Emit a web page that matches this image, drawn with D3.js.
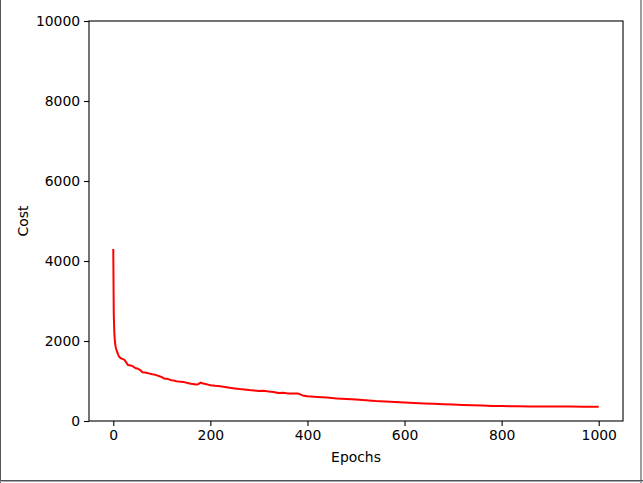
<!DOCTYPE html>
<html>
<head>
<meta charset="utf-8">
<script src="https://cdn.jsdelivr.net/npm/d3@7"></script>
<style>
	body { margin: 0; background: #fff; }
	svg { display: block; font-family: "DejaVu Sans", sans-serif; }
</style>
</head>
<body>
<div id="chart"></div>
<script>
// values
var epochs = [0, 1, 2, 3, 4, 5, 6, 8, 10, 12, 14, 17, 20, 23, 26, 30, 33, 36, 40, 43, 46,
	50, 55, 60, 65, 70, 75, 80, 85, 90, 95, 100, 105, 110, 115, 120, 125, 130, 135, 140,
	145, 150, 155, 160, 165, 170, 175, 180, 183, 185, 190, 195, 200, 210, 220, 230, 240,
	250, 260, 270, 280, 290, 300, 310, 320, 330, 340, 350, 360, 370, 380, 390, 400, 420,
	440, 460, 480, 500, 520, 540, 560, 580, 600, 620, 640, 660, 680, 700, 720, 740, 760,
	780, 800, 830, 860, 900, 940, 970, 1000];
var cost = [4300, 2700, 2250, 2050, 1930, 1850, 1800, 1730, 1660, 1610, 1585, 1560, 1545,
	1530, 1480, 1400, 1395, 1390, 1370, 1345, 1320, 1310, 1280, 1220, 1210, 1200, 1185,
	1170, 1160, 1140, 1120, 1095, 1060, 1055, 1040, 1020, 1010, 995, 985, 980, 975, 960,
	945, 930, 925, 915, 920, 960, 945, 935, 925, 910, 895, 880, 870, 850, 830, 815, 800,
	790, 775, 765, 750, 755, 735, 725, 700, 705, 690, 685, 690, 640, 620, 600, 585, 565,
	550, 535, 520, 500, 490, 475, 462, 450, 440, 430, 420, 410, 400, 392, 385, 378, 372,
	368, 365, 362, 360, 359, 358];
var xTicks = [0, 200, 400, 600, 800, 1000];
var yTicks = [0, 2000, 4000, 6000, 8000, 10000];

function drawChart(code) {
	var W = 643, H = 483;
	var margin = { top: 21, right: 20, bottom: 62, left: 89 };
	var width = W - margin.left - margin.right;
	var height = H - margin.top - margin.bottom;

	var svg = d3.select(code).append("svg")
		.attr("width", W)
		.attr("height", H);

	// window frame seen in the screenshot
	svg.append("line").attr("x1", 0.5).attr("x2", 0.5).attr("y1", 0).attr("y2", H)
		.style("stroke", "#50555c").style("stroke-width", 1);
	svg.append("line").attr("x1", W - 2).attr("x2", W - 2).attr("y1", 0).attr("y2", H)
		.style("stroke", "#9a9da2").style("stroke-width", 2);
	svg.append("line").attr("x1", 0).attr("x2", W).attr("y1", H - 2.5).attr("y2", H - 2.5)
		.style("stroke", "#50555c").style("stroke-width", 1);
	svg.append("line").attr("x1", 0).attr("x2", W).attr("y1", H - 1.5).attr("y2", H - 1.5)
		.style("stroke", "#a4a7ab").style("stroke-width", 1);

	var xScale = d3.scaleLinear().domain([-50, 1050]).range([0, width]);
	var yScale = d3.scaleLinear().domain([0, 10000]).range([height, 0]);

	var g = svg.append("g")
		.attr("transform", "translate(" + margin.left + "," + margin.top + ")");

	var line = d3.line()
		.x(function (d, i) { return xScale(epochs[i]); })
		.y(function (d) { return yScale(d); });

	g.append("path")
		.datum(cost)
		.attr("d", line)
		.style("fill", "none")
		.style("stroke", "#ff0000")
		.style("stroke-width", 2)
		.style("stroke-linejoin", "round");

	var xAxis = d3.axisBottom(xScale).tickValues(xTicks).tickFormat(d3.format("d"))
		.tickSize(4.9).tickPadding(4).tickSizeOuter(0);
	var yAxis = d3.axisLeft(yScale).tickValues(yTicks).tickFormat(d3.format("d"))
		.tickSize(4.9).tickPadding(4).tickSizeOuter(0);

	var gx = g.append("g")
		.attr("transform", "translate(0," + height + ")")
		.call(xAxis);
	var gy = g.append("g").call(yAxis);

	[gx, gy].forEach(function (a) {
		a.select(".domain").remove();
		a.selectAll(".tick line").style("stroke", "#000").style("stroke-width", 1.1);
		a.selectAll(".tick text")
			.style("font-family", "DejaVu Sans")
			.style("font-size", "13.9px")
			.style("fill", "#000");
	});

	// axes frame
	g.append("rect")
		.attr("x", 0).attr("y", 0)
		.attr("width", width).attr("height", height)
		.style("fill", "none")
		.style("stroke", "#000")
		.style("stroke-width", 1.1);

	svg.append("text")
		.attr("x", margin.left + width / 2)
		.attr("y", 462)
		.style("text-anchor", "middle")
		.style("font-size", "13.9px")
		.text("Epochs");

	svg.append("text")
		.attr("transform", "translate(28," + (margin.top + height / 2) + ") rotate(-90)")
		.style("text-anchor", "middle")
		.style("font-size", "13.9px")
		.text("Cost");
}

drawChart("#chart");
</script>
</body>
</html>
